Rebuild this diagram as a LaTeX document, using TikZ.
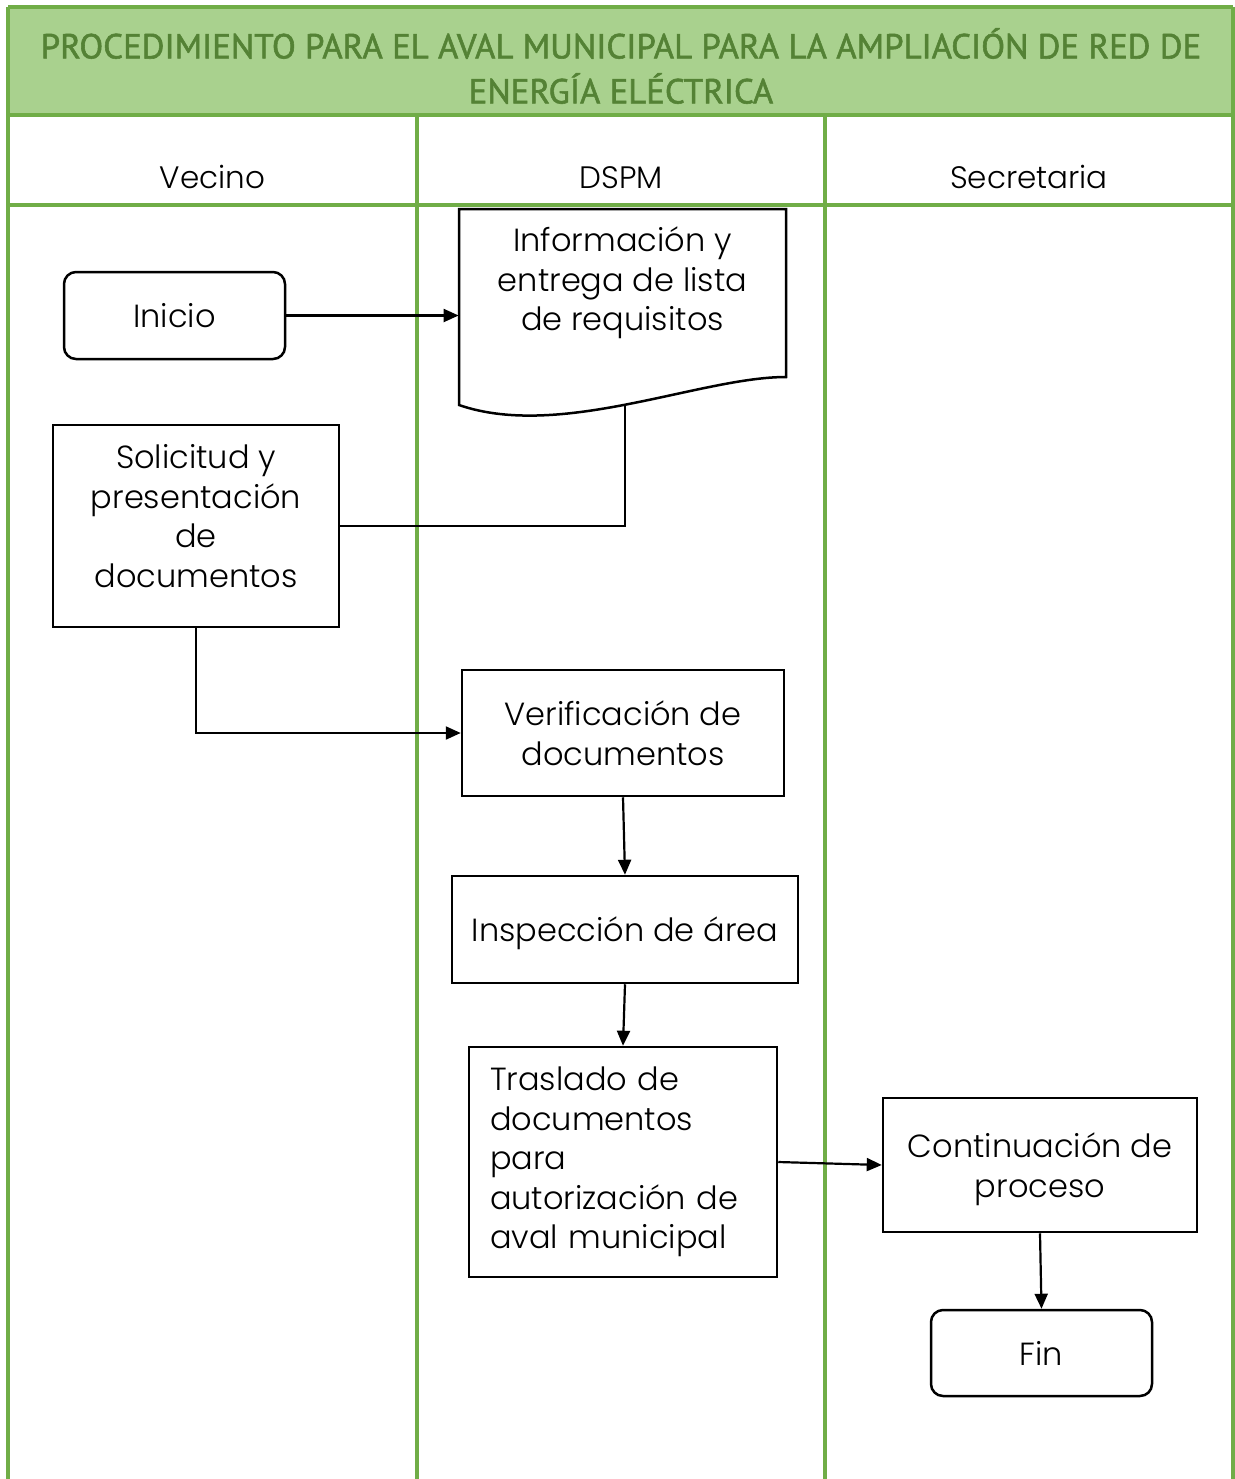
\documentclass[tikz,border=0pt]{standalone}
\usepackage{fontspec}
\setmainfont{Poppins Light}
\newfontfamily\headfont{PT Sans}[FakeBold=1.6]
\usetikzlibrary{arrows.meta}
\definecolor{laneline}{HTML}{70AD47}
\definecolor{titlefill}{HTML}{A9D18E}
\definecolor{titletext}{HTML}{548235}
\newcommand{\bodyfont}{\fontsize{16}{19.75}\selectfont}
\newcommand{\lanefont}{\fontsize{15.5}{19}\selectfont}
\newcommand{\titlefont}{\headfont\fontsize{17.4}{22.5}\selectfont}

\begin{document}
\begin{tikzpicture}[x=0.5pt,y=-0.5pt,
  lane/.style={draw=laneline, line width=2pt},
  box/.style={draw=black, line width=1.25pt, fill=white, inner sep=0pt,
    align=center, font=\bodyfont},
  term/.style={box, rounded corners=6pt},
  lowtext/.style={text depth=0pt},
  txt/.style={font=\bodyfont, align=center, inner sep=0pt},
  link/.style={draw=black, line width=1.1pt},
  flow/.style={link, -{Triangle[length=7.5pt,width=6.5pt]}}]

\useasboundingbox (0,0) rectangle (1235,1479);
\fill[white] (0,0) rectangle (1235,1479);

% title band
\fill[titlefill] (8,7) rectangle (1233,115);
\node[font=\titlefont, text=titletext, align=center, inner sep=0pt] (title) at (621,66)
  {PROCEDIMIENTO PARA EL AVAL MUNICIPAL PARA LA AMPLIACIÓN DE RED DE\\ENERGÍA ELÉCTRICA};

% swimlane grid
\draw[lane] (8,7) -- (1233,7);
\draw[lane] (8,115) -- (1233,115);
\draw[lane] (8,205) -- (1233,205);
\draw[lane] (8,7) -- (8,1479);
\draw[lane] (1233,7) -- (1233,1479);
\draw[lane] (417,115) -- (417,1479);
\draw[lane] (825,115) -- (825,1479);

% lane headers
\node[font=\lanefont, anchor=base, inner sep=0pt] (h-vecino) at (212.5,188) {Vecino};
\node[font=\lanefont, anchor=base, inner sep=0pt] (h-dspm) at (621,188) {DSPM};
\node[font=\lanefont, anchor=base, inner sep=0pt] (h-secr) at (1029,188) {Secretaria};

% steps
\node[term, lowtext, minimum width=110.5pt, minimum height=43.5pt] (inicio) at (174.5,315.5) {Inicio};

\draw[line width=1.25pt, fill=white] (459,209) -- (786,209) -- (786,377)
  .. controls (700,377) and (560,440) .. (459,405) coordinate[pos=0.51] (infob) -- cycle;
\node[minimum width=163.5pt, minimum height=98pt, inner sep=0pt] (info) at (622.5,307) {};
\node[txt] (info-t) at (622.5,283) {Información y\\entrega de lista\\de requisitos};

\node[box, minimum width=143pt, minimum height=101pt] (sol) at (196,526) {};
\node[txt] (sol-t) at (196,516) {Solicitud y\\presentación\\de\\documentos};

\node[box, minimum width=161pt, minimum height=63pt] (verif) at (623,733)
  {Verificación de\\documentos};
\node[box, lowtext, minimum width=173pt, minimum height=53.5pt] (insp) at (625,929.5)
  {Inspección de área};
\node[box, minimum width=154pt, minimum height=115pt, text width=133pt,
  inner xsep=10.5pt, align=left] (tras) at (623,1162)
  {Traslado de\\documentos\\para\\autorización de\\aval municipal};
\node[box, lowtext, minimum width=157pt, minimum height=67pt] (cont) at (1040,1165)
  {Continuación de\\proceso};
\node[term, lowtext, minimum width=110.5pt, minimum height=43pt] (fin) at (1041.5,1353) {Fin};

% connectors
\draw[flow] (inicio.east) -- (inicio.east -| info.west);
\draw[link] (infob) |- (sol.east);
\draw[flow] (sol.south) |- (verif.west);
\draw[flow] (verif.south) -- (insp.north);
\draw[flow] (insp.south) -- (tras.north);
\draw[flow] (tras.east) -- (cont.west);
\draw[flow] (cont.south) -- (fin.north);
\end{tikzpicture}
\end{document}
